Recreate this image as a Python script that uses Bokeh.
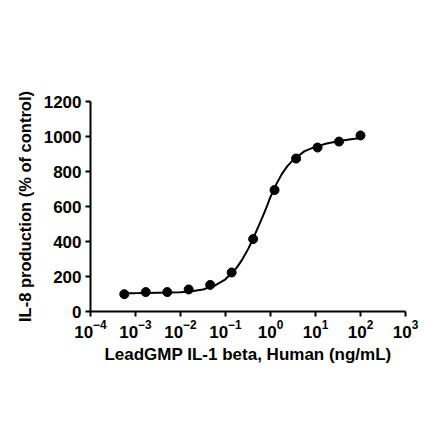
from bokeh.plotting import figure
from bokeh.models import Range1d, FixedTicker
from bokeh.embed import file_html
from bokeh.resources import INLINE

# Measured points (concentration ng/mL, IL-8 production % of control)
conc = [0.000564, 0.00169, 0.00508, 0.0152, 0.0457, 0.137, 0.412, 1.23, 3.70, 11.1, 33.3, 100.0]
il8 = [99, 111, 111, 126, 152, 223, 414, 694, 874, 937, 971, 1006]

# Fitted curve
curve_conc = [0.000562, 0.001, 0.00178, 0.00316, 0.00562, 0.01, 0.0178, 0.0316, 0.0562,
              0.1, 0.178, 0.237, 0.316, 0.422, 0.562, 0.75, 1.0, 1.33, 1.78, 2.37, 3.16,
              5.62, 10.0, 17.8, 31.6, 56.2, 100.0]
curve_val = [105, 105, 106, 107, 108, 110, 116, 126, 147,
             184, 251, 298, 355, 423, 497, 572, 655, 725, 785, 831, 865,
             915, 942, 960, 973, 983, 992]

y_ticks = [0, 200, 400, 600, 800, 1000, 1200]
x_ticks = [1e-4, 1e-3, 1e-2, 1e-1, 1e0, 1e1, 1e2, 1e3]

p = figure(x_axis_type="log", output_backend="svg", toolbar_location=None,
           frame_width=315, frame_height=210,
           min_border_left=90, min_border_top=101, min_border_right=14, min_border_bottom=111,
           x_range=Range1d(1e-4, 1e3), y_range=Range1d(0, 1200))

p.line(curve_conc, curve_val, line_color="black", line_width=2)
p.scatter(conc, il8, size=9, fill_color="black", line_color="black")

p.xgrid.visible = False
p.ygrid.visible = False
p.outline_line_color = None
p.background_fill_color = "white"
p.border_fill_color = "white"

for ax in (p.xaxis[0], p.yaxis[0]):
    ax.axis_line_width = 2
    ax.axis_line_color = "black"
    ax.major_tick_line_width = 2
    ax.major_tick_line_color = "black"
    ax.major_tick_in = 0
    ax.major_tick_out = 5
    ax.minor_tick_line_color = None
    ax.major_label_text_font = "Liberation Sans"
    ax.major_label_text_font_style = "bold"
    ax.major_label_text_font_size = "17px"
    ax.major_label_text_color = "black"
    ax.axis_label_text_font = "Liberation Sans"
    ax.axis_label_text_font_style = "bold"
    ax.axis_label_text_color = "black"

p.xaxis[0].axis_label_text_font_size = "17px"
p.yaxis[0].axis_label_text_font_size = "16.5px"
p.xaxis[0].ticker = FixedTicker(ticks=x_ticks)
p.yaxis[0].ticker = FixedTicker(ticks=y_ticks)
p.xaxis[0].major_label_standoff = 3
p.yaxis[0].major_label_standoff = 4
p.xaxis[0].axis_label = "LeadGMP IL-1 beta, Human (ng/mL)"
p.yaxis[0].axis_label = "IL-8 production (% of control)"
p.xaxis[0].axis_label_standoff = 4
p.yaxis[0].axis_label_standoff = 7

open("out.html", "w").write(file_html(p, INLINE))
